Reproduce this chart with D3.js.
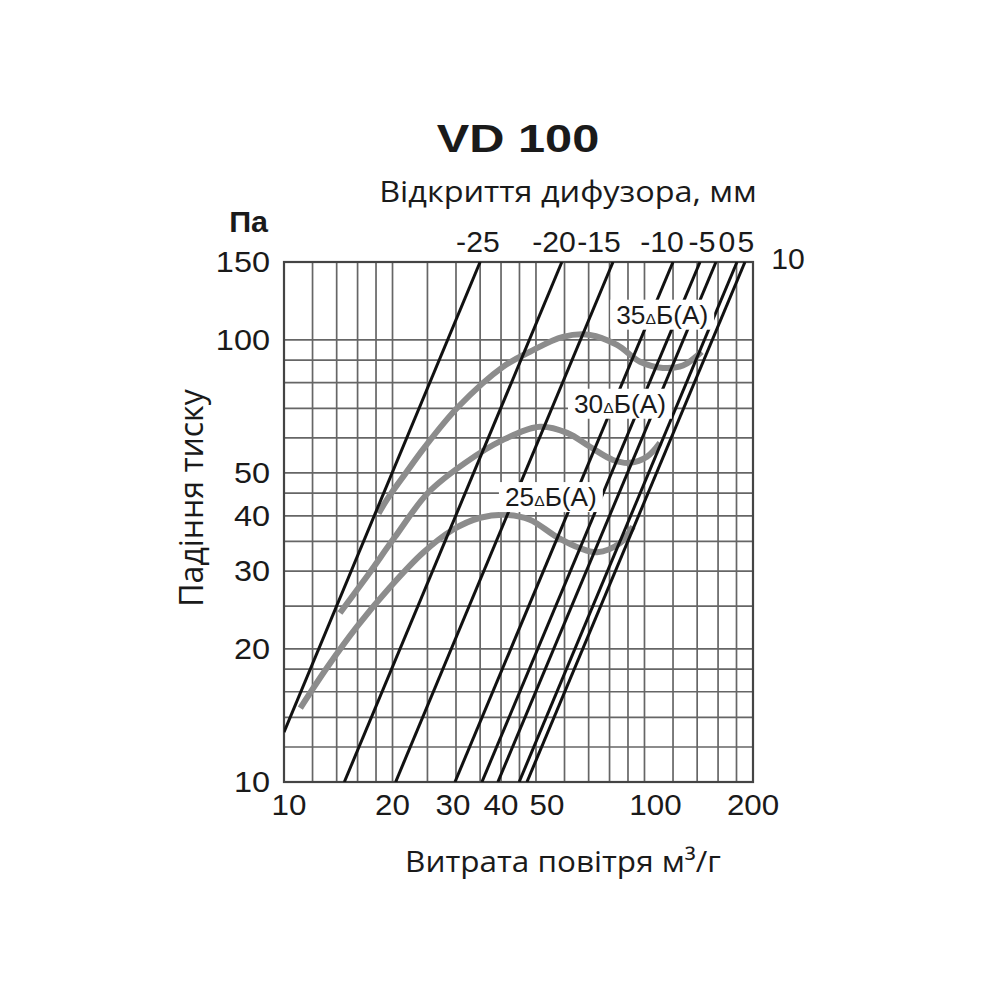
<!DOCTYPE html>
<html><head><meta charset="utf-8">
<script src="https://cdn.jsdelivr.net/npm/d3@7"></script>
<style>body{margin:0;background:#fff}</style>
</head><body><svg id="c" width="1000" height="1000"></svg>
<script>
// ---- data ----
const xTicks = [10, 20, 30, 40, 50, 100, 200];
const yTicks = [10, 20, 30, 40, 50, 100, 150];
const xGrid = [12, 14, 16, 18, 20, 25, 30, 35, 40, 45, 50, 60, 70, 80, 90, 100, 120, 140, 160, 180];
const yGrid = [12, 14, 16, 18, 20, 25, 30, 35, 40, 45, 50, 60, 70, 80, 90, 100];
const openings = ["-25", "-20", "-15", "-10", "-5", "0", "5", "10"];
const openingStart = [[10, 12.97], [14.7, 10], [20.4, 10], [29.8, 10], [35.4, 10], [39.2, 10], [44.9, 10], [47.2, 10]];
const openingEnd = [[35.0, 150], [59.0, 150], [81.8, 150], [120, 150], [142.6, 150], [157.9, 150], [180.6, 150], [190, 150]];
const openingLabelQ = [34.5, 56.1, 74.8, 111.8, 144.4, 169.4, 191.2, 250];
const noiseLevels = ["35", "30", "25"];
const noise35 = [[18.3,40.5],[19.3,43.5],[21.2,48.5],[24.6,57.3],[30.4,70.5],[40.5,86.9],[48.1,94.0],[59.4,101.6],[70.6,102.6],[83.9,97.4],[97.2,89.2],[112.5,86.4],[127.9,87.5],[144,94]];
const noise30 = [[14.3,24.1],[17.1,29.4],[20.3,35.8],[25.1,45.1],[31.8,52.7],[40.5,59.4],[51.3,63.6],[61.0,61.6],[70.6,57.3],[81.8,53.5],[91.1,52.7],[101.6,54.4],[110.4,58.5]];
const noise25 = [[11.1,14.7],[13.2,18.2],[15.9,22.4],[19.7,27.6],[24.3,33.0],[29.4,37.2],[35.0,39.6],[41.6,40.2],[48.1,39.2],[57.2,35.8],[66.2,33.8],[73.8,33.1],[85.5,34.7],[92.9,37.8]];
const noiseCurves = [noise35, noise30, noise25];
const noiseLabelAt = [[112, 114], [85.5, 71.7], [55.0, 44.1]];
const title = "VD 100";
const subtitle = "Відкриття дифузора, мм";
const yTitle = "Падіння тиску";
const yUnit = "Па";
const xTitle = "Витрата повітря м³/г";

// ---- drawing ----
const svg = d3.select("#c");
const L = 284, R = 753, T = 262, B = 782;
const x = d3.scaleLog().domain([10, 200]).range([L, R]);
const y = d3.scaleLog().domain([10, 150]).range([B, T]);
const SANS = "'Liberation Sans', Arial, Helvetica, sans-serif";
const HUM = "'Open Sans', 'Noto Sans', sans-serif";

function txt(g, px, py, s, o) {
  const t = g.append("text")
    .attr("transform", `translate(${px},${py}) scale(${o.sx || 1},1)`)
    .attr("text-anchor", o.anchor || "middle")
    .attr("font-family", o.family || SANS)
    .attr("font-size", o.size)
    .attr("font-weight", o.weight || "normal")
    .attr("fill", o.fill || "#1a1a1a");
  if (s != null) t.text(s);
  return t;
}

const grid = svg.append("g").attr("stroke", "#666").attr("stroke-width", 1.7);
grid.selectAll("line.v").data(xGrid).join("line")
  .attr("x1", d => x(d)).attr("x2", d => x(d)).attr("y1", T).attr("y2", B);
grid.selectAll("line.h").data(yGrid).join("line")
  .attr("y1", d => y(d)).attr("y2", d => y(d)).attr("x1", L).attr("x2", R);

svg.append("rect").attr("x", L).attr("y", T).attr("width", R - L).attr("height", B - T)
  .attr("fill", "none").attr("stroke", "#444").attr("stroke-width", 2.2);

svg.append("clipPath").attr("id", "pc").append("rect")
  .attr("x", L).attr("y", T).attr("width", R - L).attr("height", B - T);
const plot = svg.append("g").attr("clip-path", "url(#pc)");

const lineGen = d3.line().x(d => x(d[0])).y(d => y(d[1])).curve(d3.curveCatmullRom.alpha(0.5));
plot.selectAll("path.noise").data(noiseCurves).join("path")
  .attr("d", d => lineGen(d)).attr("fill", "none")
  .attr("stroke", "#8c8c8c").attr("stroke-width", 6);

plot.selectAll("line.op").data(openings).join("line")
  .attr("x1", (d, i) => x(openingStart[i][0])).attr("y1", (d, i) => y(openingStart[i][1]))
  .attr("x2", (d, i) => x(openingEnd[i][0])).attr("y2", (d, i) => y(openingEnd[i][1]))
  .attr("stroke", "#111").attr("stroke-width", 3);

// noise labels with white backing
noiseLevels.forEach((lv, i) => {
  const g = svg.append("g");
  const px = x(noiseLabelAt[i][0]), py = y(noiseLabelAt[i][1]);
  const bg = g.append("rect").attr("fill", "#fff");
  const t = txt(g, px, py + 9, null, { size: 25, sx: 1.05 });
  t.append("tspan").text(lv);
  t.append("tspan").attr("font-size", 15).text("Δ");
  t.append("tspan").text("Б(А)");
  const bb = t.node().getBBox();
  const w = bb.width * 1.05;
  bg.attr("x", px - w / 2 - 6).attr("y", py - 15).attr("width", w + 12).attr("height", 30);
});

// y tick labels
yTicks.forEach(v => txt(svg, 270, y(v) + 10, String(v), { size: 29, anchor: "end", sx: 1.12 }));
// x tick labels (labels of 50 and 100 sit slightly right of their gridline in the original)
const xNudge = v => (v === 50 || v === 100) ? 11 : (v === 10 ? 5 : (v === 30 ? -3 : 0));
xTicks.forEach(v => txt(svg, x(v) + xNudge(v), 815, String(v), { size: 29, sx: 1.08 }));
// opening labels
openings.forEach((s, i) => txt(svg, x(openingLabelQ[i]), i === 7 ? 269 : 252, s, { size: 29, sx: 1.04 }));

txt(svg, 268, 232, yUnit, { size: 29, weight: "bold", anchor: "end", sx: 1.05 });
txt(svg, 518, 152, title, { size: 39, weight: "bold", sx: 1.25 });
txt(svg, 568, 202, subtitle, { size: 30, family: HUM, sx: 1.08 });
txt(svg, 563, 872, xTitle, { size: 30, family: HUM, sx: 1.05 });
svg.append("text").attr("transform", "translate(203,498) rotate(-90)")
  .attr("text-anchor", "middle").attr("font-family", HUM).attr("font-size", 32)
  .attr("fill", "#1a1a1a").text(yTitle);
</script></body></html>
